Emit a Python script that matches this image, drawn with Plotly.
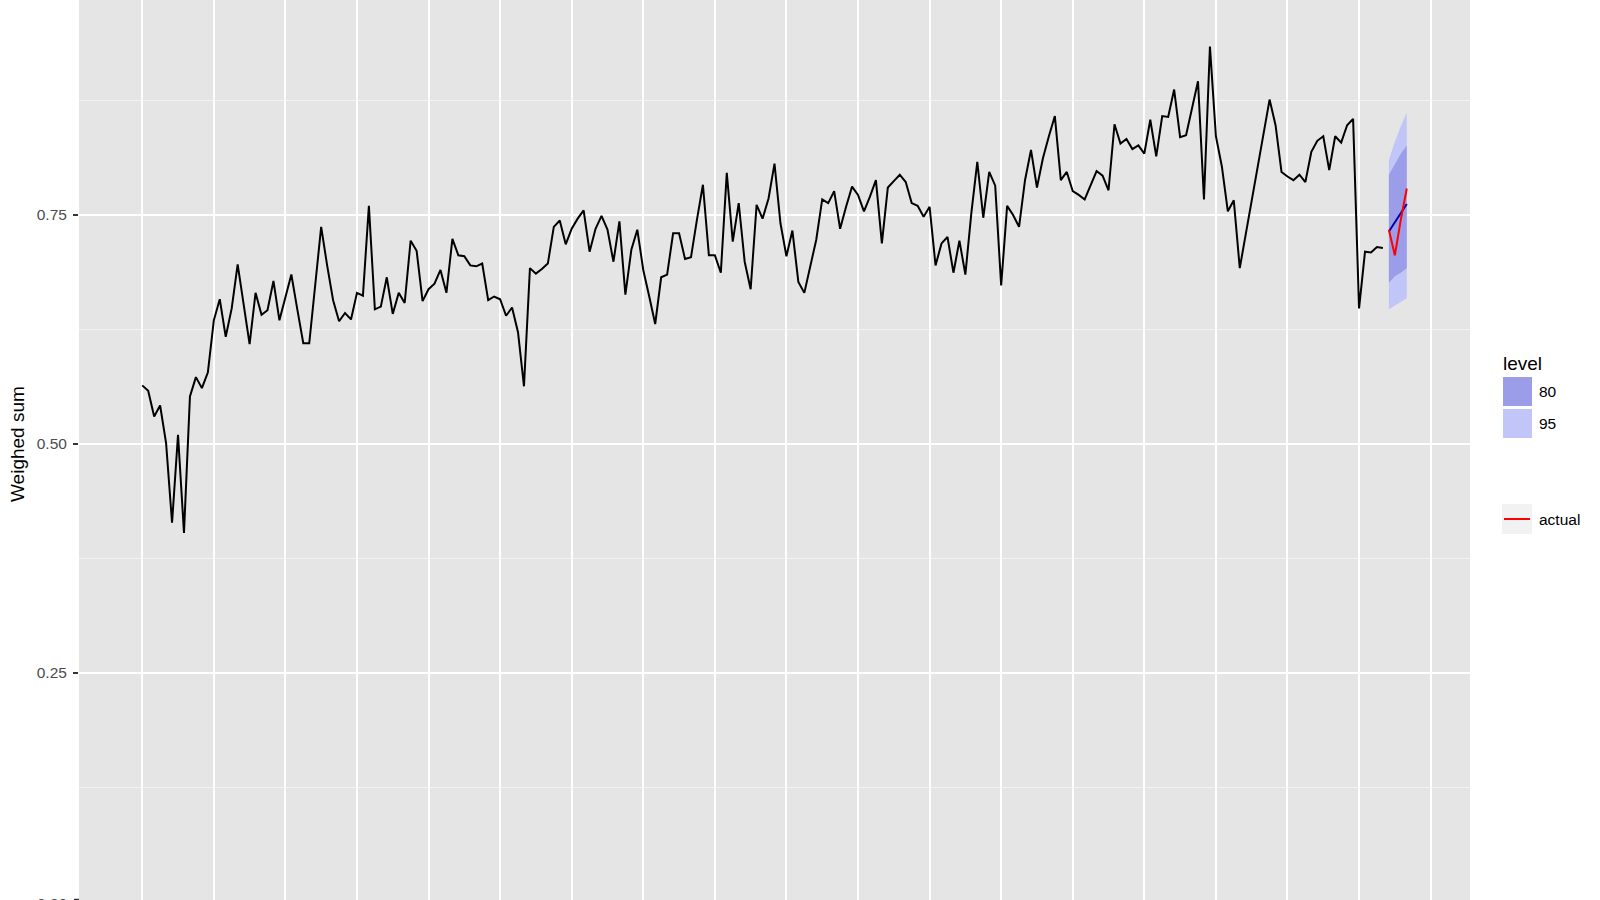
import plotly.graph_objects as go

# observed series (weighed sum), one value per period
weighed_sum = [
    0.564, 0.558, 0.530, 0.542, 0.501, 0.414, 0.510, 0.403, 0.552, 0.573,
    0.561, 0.578, 0.635, 0.658, 0.617, 0.648, 0.696, 0.653, 0.609, 0.665,
    0.641, 0.646, 0.678, 0.635, 0.660, 0.685, 0.647, 0.610, 0.610, 0.672,
    0.737, 0.695, 0.657, 0.634, 0.643,
    0.636, 0.665, 0.662, 0.760, 0.647, 0.650, 0.682, 0.642, 0.665, 0.654,
    0.722, 0.711, 0.656, 0.669, 0.675, 0.690, 0.665, 0.724, 0.706, 0.705,
    0.695, 0.694, 0.697, 0.657, 0.661, 0.658, 0.640, 0.649, 0.622, 0.563,
    0.692, 0.686, 0.691, 0.697, 0.737,
    0.744, 0.718, 0.735, 0.746, 0.755, 0.710, 0.735, 0.749, 0.734, 0.699,
    0.743, 0.663, 0.712, 0.734, 0.690, 0.661, 0.631, 0.682, 0.685, 0.730,
    0.730, 0.702, 0.704, 0.745, 0.783, 0.706, 0.706, 0.687, 0.796, 0.721,
    0.763, 0.699, 0.669, 0.761, 0.746,
    0.768, 0.806, 0.741, 0.705, 0.733, 0.677, 0.665, 0.695, 0.723, 0.767,
    0.763, 0.776, 0.735, 0.759, 0.781, 0.772, 0.754, 0.770, 0.788, 0.719,
    0.780, 0.787, 0.794, 0.786, 0.763, 0.760, 0.748, 0.759, 0.695, 0.719,
    0.726, 0.687, 0.722, 0.685, 0.752,
    0.808, 0.747, 0.797, 0.782, 0.673, 0.760, 0.750, 0.737, 0.788, 0.821,
    0.780, 0.812, 0.836, 0.858, 0.788, 0.797, 0.776, 0.772, 0.767, 0.783,
    0.798, 0.793, 0.777, 0.849, 0.828, 0.833, 0.822, 0.826, 0.817, 0.854,
    0.814, 0.858, 0.857, 0.887, 0.835, 0.837,
    0.867, 0.896, 0.767, 0.934, 0.836, 0.803, 0.754, 0.766, 0.692, 0.729,
    0.766, 0.803, 0.843, 0.876, 0.848, 0.797, 0.792, 0.788, 0.794, 0.786,
    0.819, 0.831, 0.836, 0.799, 0.836, 0.829, 0.848, 0.855, 0.648, 0.710,
    0.709, 0.715, 0.714,
]
t = list(range(len(weighed_sum)))

# forecast period
t_fc = [209, 210, 211, 212]
fc_mean = [0.732, 0.742, 0.753, 0.762]
fc_actual = [0.734, 0.706, 0.745, 0.779]
lo80 = [0.676, 0.683, 0.687, 0.692]
hi80 = [0.794, 0.805, 0.817, 0.826]
lo95 = [0.647, 0.651, 0.655, 0.659]
hi95 = [0.810, 0.830, 0.847, 0.862]

y_ticks = [0.25, 0.50, 0.75]
y_ticktext = ["0.25", "0.50", "0.75"]
level_names = ["80", "95"]

col80 = "#9C9DE8"
col95 = "#C2C5F7"
panel = "#E5E5E5"
font = "Liberation Sans, Arial, Helvetica, sans-serif"

W, H = 1600, 900
L, R = 79, 1470


def px(x):
    return (x - L) / (R - L)


def py(y):
    return 1 - y / H


fig = go.Figure()
fig.add_trace(go.Scatter(x=t_fc + t_fc[::-1], y=hi95 + lo95[::-1], fill="toself",
                         fillcolor=col95, line=dict(width=0), mode="lines",
                         hoverinfo="skip", showlegend=False))
fig.add_trace(go.Scatter(x=t_fc + t_fc[::-1], y=hi80 + lo80[::-1], fill="toself",
                         fillcolor=col80, line=dict(width=0), mode="lines",
                         hoverinfo="skip", showlegend=False))
fig.add_trace(go.Scatter(x=t, y=weighed_sum, mode="lines",
                         line=dict(color="black", width=2), showlegend=False))
fig.add_trace(go.Scatter(x=t_fc, y=fc_mean, mode="lines",
                         line=dict(color="#0000AA", width=2), showlegend=False))
fig.add_trace(go.Scatter(x=t_fc, y=fc_actual, mode="lines",
                         line=dict(color="red", width=2), showlegend=False))

# legend drawn by hand (ggplot-like keys)
shapes = [
    dict(type="rect", xref="paper", yref="paper", x0=px(1503), x1=px(1532),
         y0=py(406), y1=py(377), fillcolor=col80, line=dict(width=0), layer="above"),
    dict(type="rect", xref="paper", yref="paper", x0=px(1503), x1=px(1532),
         y0=py(438), y1=py(409), fillcolor=col95, line=dict(width=0), layer="above"),
    dict(type="rect", xref="paper", yref="paper", x0=px(1502), x1=px(1532),
         y0=py(534), y1=py(504), fillcolor="#F2F2F2", line=dict(width=0), layer="above"),
    dict(type="line", xref="paper", yref="paper", x0=px(1504), x1=px(1530),
         y0=py(519), y1=py(519), line=dict(color="red", width=2), layer="above"),
    # tick for the 0.00 label that sits just under the window edge
    dict(type="line", xref="paper", yref="paper", x0=px(74), x1=px(79),
         y0=py(899.5), y1=py(899.5), line=dict(color="#333333", width=1.5)),
]

ann = [
    dict(text="level", x=px(1501), y=py(363), xanchor="left", yanchor="middle",
         font=dict(size=19, color="black")),
    dict(text=level_names[0], x=px(1537), y=py(392), xanchor="left", yanchor="middle",
         font=dict(size=15.5, color="black")),
    dict(text=level_names[1], x=px(1537), y=py(423), xanchor="left", yanchor="middle",
         font=dict(size=15.5, color="black")),
    dict(text="actual", x=px(1537), y=py(519), xanchor="left", yanchor="middle",
         font=dict(size=15.5, color="black")),
    dict(text="Weighed sum", x=px(17), y=py(444), xanchor="center",
         yanchor="middle", textangle=-90, font=dict(size=19, color="black")),
    dict(text="0.00", x=px(70), y=py(903), xanchor="right", yanchor="middle",
         font=dict(size=15.5, color="#4D4D4D")),
]
for a in ann:
    a["xref"] = "paper"
    a["yref"] = "paper"
    a["showarrow"] = False

fig.update_layout(
    width=W, height=H,
    margin=dict(l=L, r=W - R, t=0, b=0),
    paper_bgcolor="white",
    plot_bgcolor=panel,
    font=dict(family=font),
    shapes=shapes,
    annotations=ann,
    xaxis=dict(range=[-10.6, 222.6], tickvals=list(range(0, 217, 12)),
               showticklabels=False, ticks="", showgrid=True, gridcolor="white",
               gridwidth=2, zeroline=False, showline=False),
    yaxis=dict(range=[0.75 - 685 / 916, 0.75 + 215 / 916], tickvals=y_ticks,
               ticktext=y_ticktext, ticks="outside", ticklen=5, tickwidth=1.5,
               tickcolor="#333333", tickfont=dict(size=15.5, color="#4D4D4D"),
               showgrid=True, gridcolor="white", gridwidth=2, zeroline=False,
               showline=False, ticklabelstandoff=3,
               minor=dict(dtick=0.125, tick0=0, showgrid=True, gridcolor="#F2F2F2",
                          gridwidth=1, ticks="")),
)

# page body has a default 8px margin; drop it so the figure fills the window
fig.write_html("out.html",
               config={"displayModeBar": False},
               post_script="document.body.style.margin='0';"
                           "document.body.style.overflow='hidden';")
